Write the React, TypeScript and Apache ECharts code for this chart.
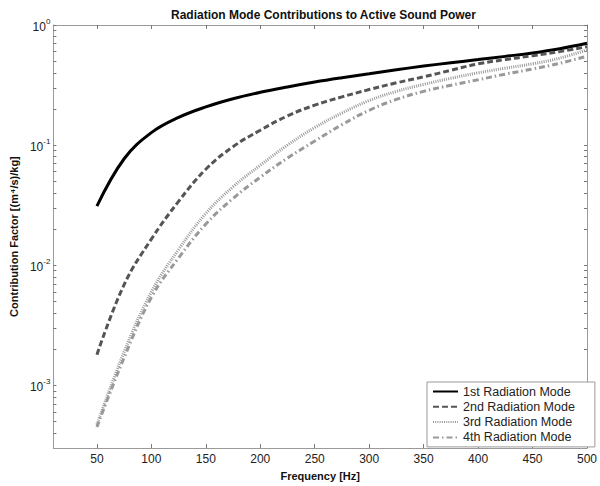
import React, { useEffect, useRef } from "react";
import * as echarts from "echarts";

const freq = [50, 75, 100, 125, 150, 175, 200, 225, 250, 275, 300, 325, 350, 375, 400, 425, 450, 475, 500];
const mode1 = [0.031, 0.077, 0.127, 0.17, 0.208, 0.243, 0.275, 0.305, 0.335, 0.364, 0.393, 0.424, 0.455, 0.485, 0.515, 0.548, 0.585, 0.635, 0.705];
const mode2 = [0.0018, 0.0069, 0.0165, 0.034, 0.063, 0.097, 0.133, 0.175, 0.215, 0.252, 0.29, 0.33, 0.37, 0.42, 0.475, 0.515, 0.555, 0.6, 0.66];
const mode3 = [0.00047, 0.0019, 0.006, 0.0135, 0.027, 0.045, 0.068, 0.1, 0.14, 0.185, 0.235, 0.28, 0.32, 0.36, 0.4, 0.437, 0.475, 0.53, 0.62];
const mode4 = [0.00045, 0.0017, 0.0054, 0.0115, 0.022, 0.036, 0.054, 0.078, 0.108, 0.148, 0.195, 0.24, 0.28, 0.315, 0.35, 0.39, 0.43, 0.48, 0.55];

const seriesNames = ["1st Radiation Mode", "2nd Radiation Mode", "3rd Radiation Mode", "4th Radiation Mode"];
const xTicks = [50, 100, 150, 200, 250, 300, 350, 400, 450, 500];
const yMajor = [0.001, 0.01, 0.1, 1];
const yMinor = [
  0.0004, 0.0005, 0.0006, 0.0007, 0.0008, 0.0009, 0.001,
  0.002, 0.003, 0.004, 0.005, 0.006, 0.007, 0.008, 0.009, 0.01,
  0.02, 0.03, 0.04, 0.05, 0.06, 0.07, 0.08, 0.09, 0.1,
  0.2, 0.3, 0.4, 0.5, 0.6, 0.7, 0.8, 0.9, 1,
];

const FONT = 'Arial, "Liberation Sans", sans-serif';
const FRAME = "#9a9a9a";

export default function App() {
  const ref = useRef<HTMLDivElement>(null);
  useEffect(() => {
    document.body.style.margin = "0";
    if (!ref.current) return;
    const chart = echarts.init(ref.current, null, { renderer: "svg" });
    const pairs = (vals: number[]) => freq.map((f, i) => [f, vals[i]]);
    const xBase = {
      type: "value",
      min: 10,
      max: 500,
      splitLine: { show: false },
      axisLine: { lineStyle: { color: FRAME, width: 1 } },
      axisTick: { inside: true, length: 4, customValues: xTicks, lineStyle: { color: "#777" } },
    };
    const yBase = {
      type: "log",
      logBase: 10,
      min: 0.0003,
      max: 1,
      splitLine: { show: false },
      axisLine: { show: true, lineStyle: { color: FRAME, width: 1 } },
      axisTick: { inside: true, length: 3, customValues: yMinor, lineStyle: { color: "#777" } },
    };
    const lineSeries = (name: string, vals: number[], color: string, type: any) => ({
      name,
      type: "line",
      data: pairs(vals),
      smooth: 0.4,
      symbol: "none",
      showSymbol: false,
      lineStyle: { color, width: 3, type },
      itemStyle: { color },
    });
    chart.setOption({
      animation: false,
      backgroundColor: "#ffffff",
      title: {
        text: "Radiation Mode Contributions to Active Sound Power",
        left: 166,
        top: 4,
        textStyle: { fontFamily: FONT, fontSize: 12, fontWeight: "bold", color: "#111" },
      },
      grid: { left: 52, right: 8, top: 25, bottom: 37, containLabel: false },
      legend: {
        orient: "vertical",
        left: 427,
        top: 382,
        data: seriesNames,
        itemWidth: 25,
        itemHeight: 12,
        itemGap: 2.3,
        itemTextGap: 6,
        padding: [3, 20, 3, 5],
        backgroundColor: "#fff",
        borderColor: FRAME,
        borderWidth: 1,
        itemStyle: { opacity: 0 },
        textStyle: { fontFamily: FONT, fontSize: 12.5, lineHeight: 12, color: "#222" },
      },
      xAxis: [
        {
          ...xBase,
          position: "bottom",
          name: "Frequency [Hz]",
          nameLocation: "middle",
          nameGap: 17,
          nameTextStyle: { fontFamily: FONT, fontSize: 11, fontWeight: "bold", color: "#111" },
          axisLabel: { customValues: xTicks, margin: 5, fontFamily: FONT, fontSize: 12, color: "#222" },
        },
        { ...xBase, position: "top", axisLabel: { show: false } },
      ],
      yAxis: [
        {
          ...yBase,
          position: "left",
          name: "Contribution Factor [(m⁴/s)/kg]",
          nameLocation: "middle",
          nameGap: 31,
          nameRotate: 90,
          nameTextStyle: { fontFamily: FONT, fontSize: 11, fontWeight: "bold", color: "#111" },
          axisLabel: {
            customValues: yMajor,
            margin: 3,
            formatter: (v: number) => `{b|10}{s|${Math.round(Math.log10(v))}}`,
            rich: {
              b: { fontFamily: FONT, fontSize: 12, color: "#222", lineHeight: 16, verticalAlign: "bottom" },
              s: { fontFamily: FONT, fontSize: 8, color: "#222", lineHeight: 16, verticalAlign: "top" },
            },
          },
        },
        { ...yBase, position: "right", axisLabel: { show: false } },
      ],
      series: [
        lineSeries(seriesNames[0], mode1, "#000", "solid"),
        lineSeries(seriesNames[1], mode2, "#555", [6, 3]),
        lineSeries(seriesNames[2], mode3, "#999", [1, 1.2]),
        lineSeries(seriesNames[3], mode4, "#999", [6, 3, 1.5, 3]),
      ],
    });
    return () => chart.dispose();
  }, []);
  return <div ref={ref} style={{ width: 600, height: 486 }} />;
}
